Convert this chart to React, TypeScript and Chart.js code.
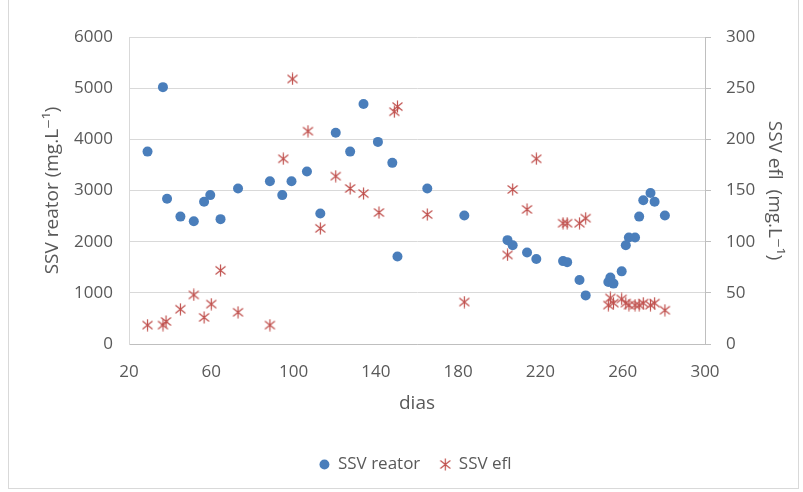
import React, { useEffect, useRef } from "react";
import { Chart, registerables } from "chart.js";

Chart.register(...registerables);

// SSV reator (left axis, mg/L)
const reatorDays = [29, 36.5, 38.5, 45, 51.5, 56.5, 59.5, 64.5, 73, 88.5, 94.5, 99, 106.5, 113, 120.5, 127.5, 134, 141, 148, 150.5, 165, 183, 204, 206.5, 213.5, 218, 231, 233, 239, 242, 253, 254, 255.5, 259.5, 261.5, 263, 266, 268, 270, 273.5, 275.5, 280.5];
const reatorValues = [3760, 5020, 2840, 2490, 2400, 2780, 2910, 2440, 3040, 3180, 2910, 3180, 3370, 2550, 4130, 3760, 4690, 3950, 3540, 1710, 3040, 2510, 2030, 1930, 1790, 1660, 1620, 1600, 1250, 950, 1210, 1300, 1180, 1420, 1930, 2080, 2080, 2490, 2810, 2950, 2780, 2510];

// SSV efl (right axis, mg/L)
const eflDays = [29, 36.5, 38, 45, 51.5, 56.5, 60, 64.5, 73, 88.5, 95, 99.5, 107, 113, 120.5, 127.5, 134, 141.5, 149, 150.5, 165, 183, 204, 206.5, 213.5, 218, 231, 233, 239, 242, 253, 254, 255.5, 259.5, 261.5, 263, 266, 268, 270, 273.5, 275.5, 280.5];
const eflValues = [18.5, 18.5, 22, 34, 48, 26, 39, 72, 31, 18.5, 181, 259, 208, 113, 164, 152, 147, 128.5, 227, 232, 126.5, 41, 87, 151, 131.5, 181, 118, 118, 118, 123, 38, 45, 40, 44, 40, 38, 38, 38, 40, 38, 40, 33];

const xTicks = { min: 20, max: 300, step: 40 };
const leftTicks = { min: 0, max: 6000, step: 1000 };
const rightTicks = { min: 0, max: 300, step: 50 };

const BLUE = "#4a7ebb";
const RED = "#c0504d";
const TEXT = "#595959";
const FONT = "'Open Sans', 'DejaVu Sans', sans-serif";

function makeStar(): HTMLCanvasElement {
  const c = document.createElement("canvas");
  c.width = 13;
  c.height = 13;
  const g = c.getContext("2d")!;
  g.strokeStyle = RED;
  g.lineWidth = 1.2;
  g.beginPath();
  g.moveTo(6.5, 0.5);
  g.lineTo(6.5, 12.5);
  g.moveTo(1.5, 2.5);
  g.lineTo(11.5, 10.5);
  g.moveTo(11.5, 2.5);
  g.lineTo(1.5, 10.5);
  g.stroke();
  return c;
}

const plain = (v: any) => String(v);

export default function App() {
  const ref = useRef<HTMLCanvasElement>(null);

  useEffect(() => {
    if (!ref.current) return;
    const star = makeStar();
    const chart = new Chart(ref.current, {
      type: "scatter",
      data: {
        datasets: [
          {
            label: "SSV reator",
            data: reatorDays.map((d, i) => ({ x: d, y: reatorValues[i] })),
            yAxisID: "y",
            pointStyle: "circle",
            pointRadius: 5,
            backgroundColor: BLUE,
            borderColor: BLUE,
            borderWidth: 0,
          },
          {
            label: "SSV efl",
            data: eflDays.map((d, i) => ({ x: d, y: eflValues[i] })),
            yAxisID: "y1",
            pointStyle: star as any,
            pointRadius: 6,
            backgroundColor: RED,
            borderColor: RED,
          },
        ],
      },
      options: {
        animation: false,
        responsive: false,
        maintainAspectRatio: false,
        layout: { padding: { left: 28, right: 0, top: 37, bottom: 9 } },
        plugins: {
          tooltip: { enabled: false },
          legend: {
            position: "bottom",
            labels: {
              usePointStyle: true,
              boxWidth: 10,
              boxHeight: 7,
              padding: 20,
              color: TEXT,
              font: { family: FONT, size: 17 },
            },
          },
        },
        scales: {
          x: {
            type: "linear",
            min: xTicks.min,
            max: xTicks.max,
            afterFit: (s: any) => { s.height = 92; },
            ticks: {
              stepSize: xTicks.step,
              color: TEXT,
              padding: 18,
              font: { family: FONT, size: 17 },
              callback: plain,
            },
            grid: { color: "rgba(0,0,0,0)", drawTicks: false },
            border: { display: true, color: "#bfbfbf", width: 1 },
            title: {
              display: true,
              text: "dias",
              color: TEXT,
              font: { family: FONT, size: 19 },
              padding: { top: 0, bottom: 21 },
            },
          },
          y: {
            type: "linear",
            position: "left",
            min: leftTicks.min,
            max: leftTicks.max,
            afterFit: (s: any) => { s.width = 101; },
            ticks: {
              stepSize: leftTicks.step,
              color: TEXT,
              padding: 16,
              font: { family: FONT, size: 17 },
              callback: plain,
            },
            grid: { color: "#d9d9d9", drawTicks: false },
            border: { display: true, color: "#d9d9d9", width: 1 },
            title: {
              display: true,
              text: "SSV reator (mg.L⁻¹)",
              color: TEXT,
              font: { family: FONT, size: 19 },
              padding: { top: 13, bottom: 0 },
            },
          },
          y1: {
            type: "linear",
            position: "right",
            min: rightTicks.min,
            max: rightTicks.max,
            afterFit: (s: any) => { s.width = 98; },
            ticks: {
              stepSize: rightTicks.step,
              color: TEXT,
              padding: 15,
              font: { family: FONT, size: 17 },
              callback: plain,
            },
            grid: { drawOnChartArea: false, drawTicks: true, tickLength: 6, color: "#bfbfbf" },
            border: { display: true, color: "#bfbfbf", width: 1 },
            title: {
              display: true,
              text: "SSV efl  (mg.L⁻¹)",
              color: TEXT,
              font: { family: FONT, size: 19 },
              padding: { top: 17, bottom: 0 },
            },
          },
        },
      },
    });
    return () => chart.destroy();
  }, []);

  return (
    <div style={{ position: "fixed", left: 0, top: 0, width: 803, height: 492, background: "#fff" }}>
      <canvas ref={ref} width={803} height={492} style={{ position: "absolute", left: 0, top: 0, width: 803, height: 492 }} />
      <div
        style={{
          position: "absolute",
          left: 8,
          top: -1,
          width: 791,
          height: 490,
          border: "1px solid #d9d9d9",
          boxSizing: "border-box",
          pointerEvents: "none",
        }}
      />
    </div>
  );
}
